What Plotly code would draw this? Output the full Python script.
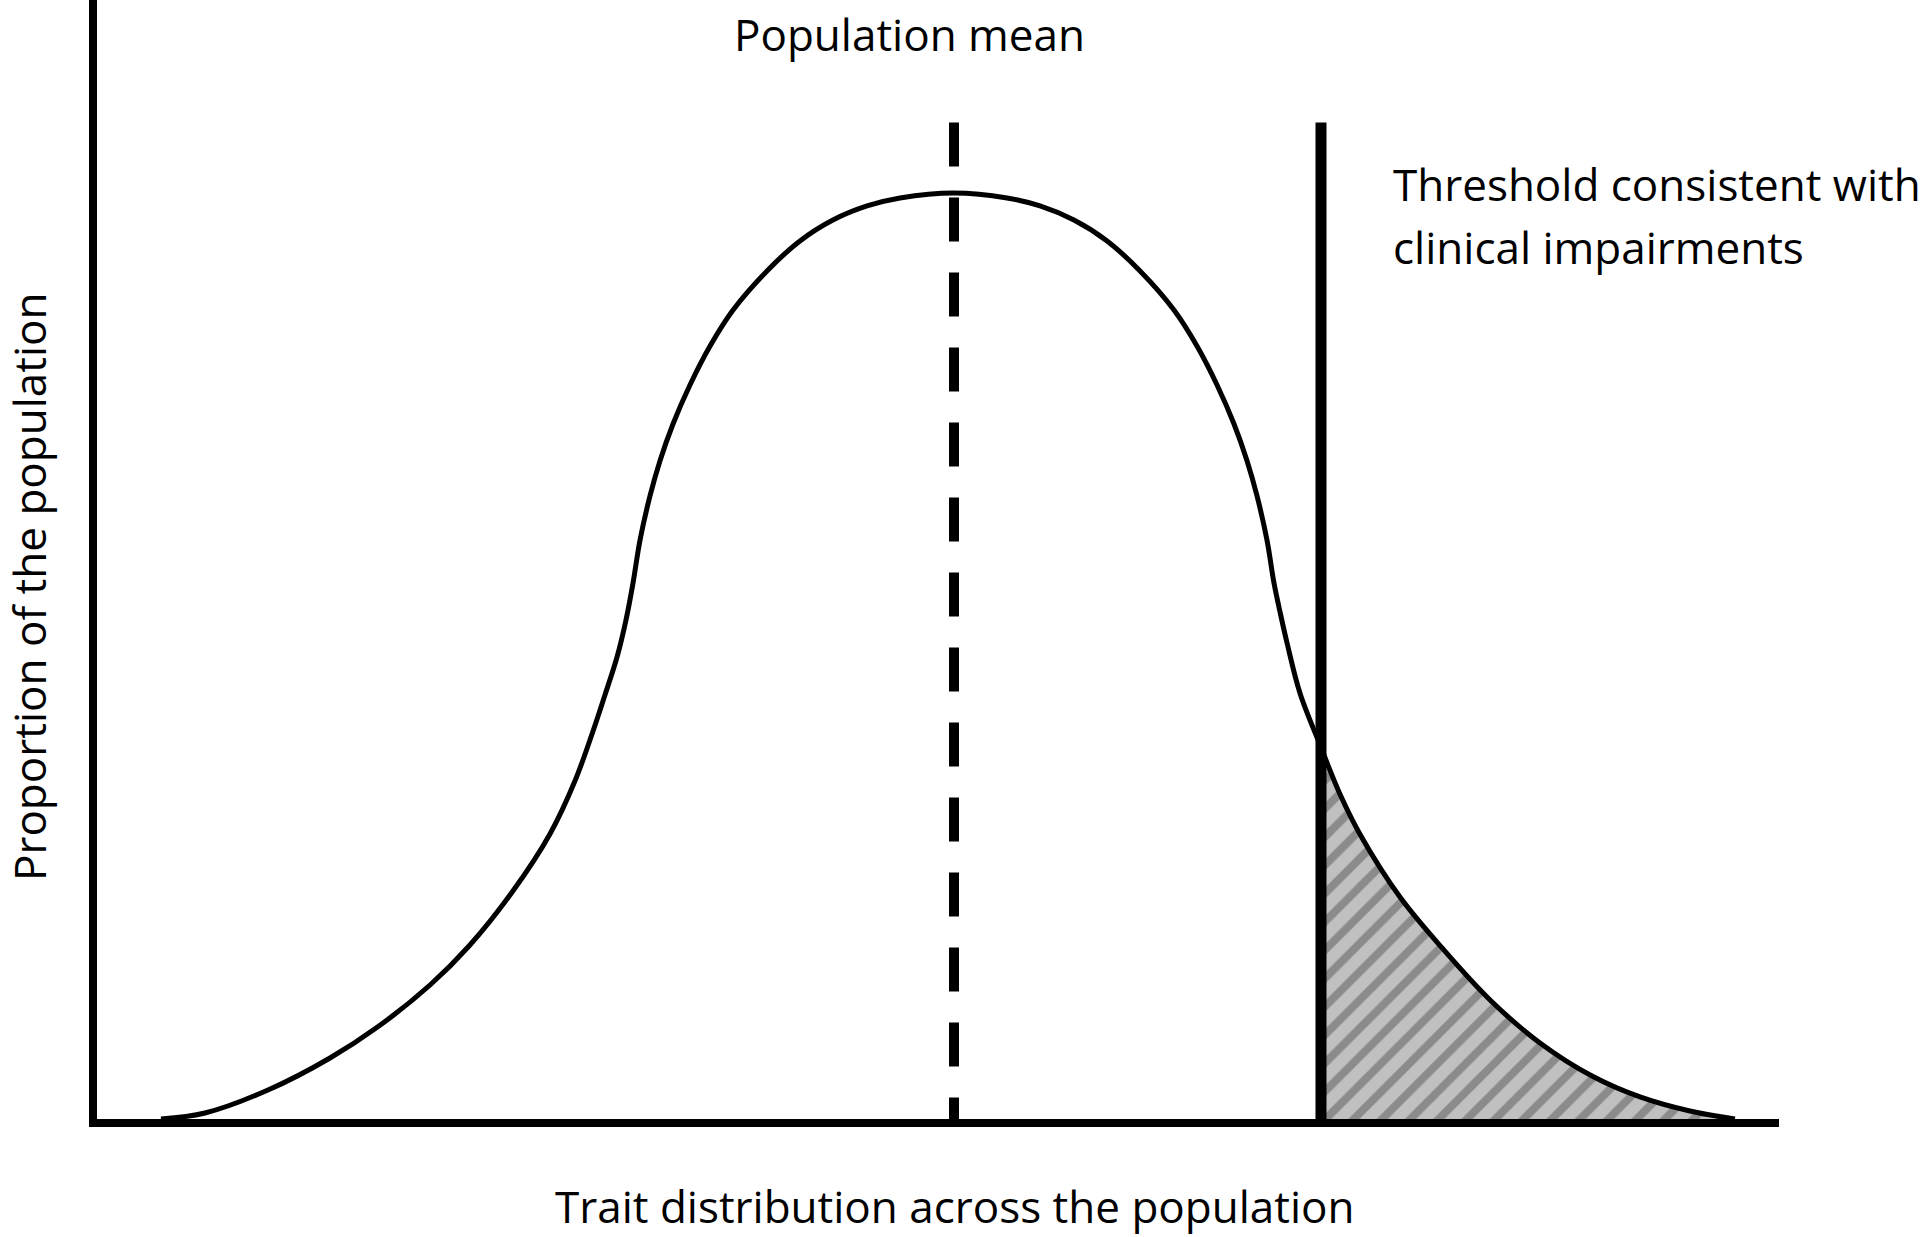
import numpy as np
import plotly.graph_objects as go

# ---- data (trait in SD-like units, mean = 0) ----
curve_x = [-4.067, -3.841, -3.518, -3.200, -2.949, -2.687, -2.487, -2.262, -2.072,
           -1.944, -1.851, -1.790, -1.728, -1.682, -1.646, -1.610, -1.559, -1.508,
           -1.441, -1.354, -1.251, -1.133, -0.959, -0.790, -0.621, -0.446, -0.277, 0.0,
           0.272, 0.441, 0.615, 0.785, 0.954, 1.128, 1.246, 1.349, 1.436, 1.503,
           1.554, 1.605, 1.641, 1.672, 1.708, 1.774, 1.877, 1.979, 2.087, 2.287,
           2.503, 2.749, 3.005, 3.272, 3.518, 3.774, 4.005]
curve_y = [0.000, 0.0065, 0.0313, 0.0659, 0.1004, 0.1447, 0.1868, 0.2462, 0.3078,
           0.3650, 0.4190, 0.4579, 0.4989, 0.5389, 0.5788, 0.6253, 0.6728, 0.7106,
           0.7505, 0.7927, 0.8348, 0.8737, 0.9158, 0.9482, 0.9708, 0.9860, 0.9946, 1.000,
           0.9946, 0.9860, 0.9708, 0.9482, 0.9158, 0.8737, 0.8348, 0.7927, 0.7505, 0.7106,
           0.6728, 0.6253, 0.5788, 0.5475, 0.5140, 0.4600, 0.4039, 0.3510, 0.3056, 0.2397,
           0.1847, 0.1285, 0.0821, 0.0464, 0.0238, 0.0086, 0.000]

population_mean = 0.0
threshold = 1.882
marker_top = 1.076

label_mean = "Population mean"
label_threshold = ["Threshold consistent with", "clinical impairments"]
x_title = "Trait distribution across the population"
y_title = "Proportion of the population"

# ---- derived tail region (beyond the threshold) ----
cx = np.array(curve_x)
cy = np.array(curve_y)
y_at_thr = float(np.interp(threshold, cx, cy))
mask = cx > threshold
tail_x = [threshold] + cx[mask].tolist()
tail_y = [y_at_thr] + cy[mask].tolist()

FONT = "Open Sans"

fig = go.Figure()

fig.add_trace(go.Scatter(
    x=tail_x, y=tail_y, mode="lines", fill="tozeroy",
    line=dict(width=0, color="rgba(0,0,0,0)", shape="spline", smoothing=1.0),
    fillcolor="#c0c0c0",
    fillpattern=dict(shape="/", bgcolor="#c0c0c0", fgcolor="#555555",
                     size=20, solidity=0.4),
    hoverinfo="skip", showlegend=False))

fig.add_trace(go.Scatter(
    x=curve_x, y=curve_y, mode="lines",
    line=dict(color="black", width=5, shape="spline", smoothing=1.0),
    showlegend=False))

fig.add_trace(go.Scatter(
    x=[population_mean, population_mean], y=[marker_top, 0], mode="lines",
    line=dict(color="black", width=10, dash="44px,31px"),
    showlegend=False))

fig.add_trace(go.Scatter(
    x=[threshold, threshold], y=[marker_top, 0], mode="lines",
    line=dict(color="black", width=11),
    showlegend=False))

ann_font = dict(family=FONT, size=44, color="black")
fig.add_annotation(x=-0.226, y=1.1712, xref="x", yref="y", text=label_mean,
                   showarrow=False, xanchor="center", yanchor="middle", font=ann_font)
fig.add_annotation(x=2.24, y=1.0092, xref="x", yref="y", text=label_threshold[0],
                   showarrow=False, xanchor="left", yanchor="middle", font=ann_font)
fig.add_annotation(x=2.24, y=0.9422, xref="x", yref="y", text=label_threshold[1],
                   showarrow=False, xanchor="left", yanchor="middle", font=ann_font)
fig.add_annotation(x=0.005, y=-0.0777, xref="x", yref="paper", text=x_title,
                   showarrow=False, xanchor="center", yanchor="middle", font=ann_font)
fig.add_annotation(x=-0.0404, y=0.5745, xref="paper", yref="y", text=y_title,
                   textangle=-90, showarrow=False, xanchor="center", yanchor="middle",
                   font=ann_font)

fig.update_layout(
    width=1920, height=1237,
    margin=dict(l=97, r=141, t=0, b=118, pad=0),
    paper_bgcolor="white", plot_bgcolor="white",
    showlegend=False,
    xaxis=dict(range=[-4.3949, 4.2308], showgrid=False, zeroline=False,
               showticklabels=False, ticks="", showline=True, linecolor="black",
               linewidth=8, fixedrange=True),
    yaxis=dict(range=[0, 1.2084], showgrid=False, zeroline=False,
               showticklabels=False, ticks="", showline=True, linecolor="black",
               linewidth=8, fixedrange=True),
)

fig.write_html("out.html", config={"displayModeBar": False},
               post_script="document.body.style.margin='0';document.body.style.overflow='hidden';")
